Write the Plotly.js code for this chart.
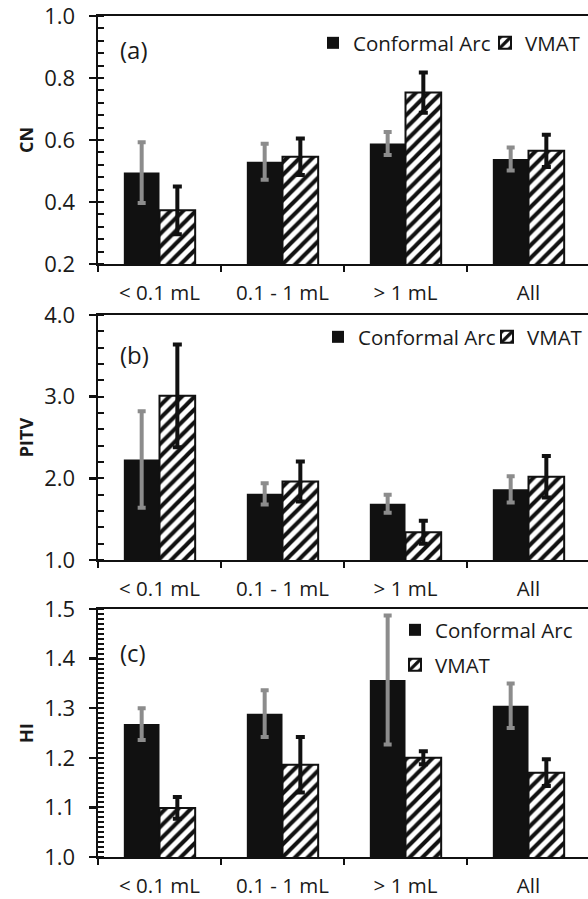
<!DOCTYPE html>
<html>
<head>
<meta charset="utf-8">
<script src="https://cdn.plot.ly/plotly-3.0.1.min.js"></script>
<style>
html,body{margin:0;padding:0;overflow:hidden;background:#fff;}
#chart{width:600px;height:899px;}
</style>
</head>
<body>
<div id="chart"></div>
<script>
// ---- data ----
const categories = ["< 0.1 mL", "0.1 - 1 mL", "> 1 mL", "All"];
const seriesNames = ["Conformal Arc", "VMAT"];

const cnConformal = [0.495, 0.530, 0.589, 0.539];
const cnConformalErr = [0.098, 0.058, 0.037, 0.037];
const cnVmat = [0.373, 0.546, 0.753, 0.565];
const cnVmatErr = [0.077, 0.059, 0.065, 0.052];

const pitvConformal = [2.23, 1.81, 1.69, 1.865];
const pitvConformalErr = [0.59, 0.13, 0.11, 0.16];
const pitvVmat = [3.01, 1.96, 1.34, 2.02];
const pitvVmatErr = [0.63, 0.245, 0.14, 0.255];

const hiConformal = [1.268, 1.289, 1.357, 1.305];
const hiConformalErr = [0.032, 0.047, 0.13, 0.045];
const hiVmat = [1.099, 1.186, 1.200, 1.170];
const hiVmatErr = [0.022, 0.056, 0.013, 0.027];

const cnTicks = [0.2, 0.4, 0.6, 0.8, 1.0];
const pitvTicks = [1.0, 2.0, 3.0, 4.0];
const hiTicks = [1.0, 1.1, 1.2, 1.3, 1.4, 1.5];

const panelLabels = ["(a)", "(b)", "(c)"];
const yTitles = ["CN", "PITV", "HI"];

// ---- styling ----
const FONT = "Open Sans, Arial, sans-serif";
const TXT = "#1a1a1a";
const BLACK = "#111";

function confTrace(y, err, xa, ya, leg) {
  return {
    type: "bar", x: categories, y: y, name: seriesNames[0],
    xaxis: xa, yaxis: ya, legend: leg,
    marker: {color: BLACK, line: {width: 0}},
    error_y: {type: "data", array: err, visible: true, color: "#8c8c8c", thickness: 4, width: 4}
  };
}
function vmatTrace(y, err, xa, ya, leg) {
  return {
    type: "bar", x: categories, y: y, name: seriesNames[1],
    xaxis: xa, yaxis: ya, legend: leg,
    marker: {color: "#fff", line: {color: BLACK, width: 2},
      pattern: {shape: "/", fgcolor: BLACK, bgcolor: "#fff", size: 9, solidity: 0.45}},
    error_y: {type: "data", array: err, visible: true, color: BLACK, thickness: 4, width: 4.5}
  };
}

const data = [
  confTrace(cnConformal, cnConformalErr, "x", "y", "legend"),
  vmatTrace(cnVmat, cnVmatErr, "x", "y", "legend2"),
  confTrace(pitvConformal, pitvConformalErr, "x2", "y2", "legend3"),
  vmatTrace(pitvVmat, pitvVmatErr, "x2", "y2", "legend4"),
  confTrace(hiConformal, hiConformalErr, "x3", "y3", "legend5"),
  vmatTrace(hiVmat, hiVmatErr, "x3", "y3", "legend6")
];

const H = 899;
function fy(px) { return 1 - px / H; }

function xAxis(anchor) {
  return {
    anchor: anchor, domain: [0, 1], type: "category",
    showline: true, linecolor: BLACK, linewidth: 2, mirror: true,
    ticks: "outside", tickson: "boundaries", ticklen: 6, tickwidth: 2, tickcolor: BLACK,
    tickfont: {family: FONT, size: 20.5, color: TXT},
    ticklabelstandoff: 9, ticklabeloverflow: "allow",
    showgrid: false, zeroline: false, fixedrange: true
  };
}
function yAxis(anchor, domain, range, vals, minorStep, title) {
  return {
    anchor: anchor, domain: domain, range: range,
    tickmode: "array", tickvals: vals, ticktext: vals.map(v => v.toFixed(1)),
    showline: true, linecolor: BLACK, linewidth: 2.5,
    ticks: "outside", ticklen: 7, tickwidth: 2.5, tickcolor: BLACK,
    minor: {ticks: "inside", dtick: minorStep, tick0: range[0], ticklen: 6, tickwidth: 2, tickcolor: BLACK, showgrid: false},
    tickfont: {family: FONT, size: 22, color: TXT},
    ticklabelstandoff: 9, ticklabeloverflow: "allow",
    showgrid: false, zeroline: false, fixedrange: true,
    title: {text: title, font: {family: FONT, size: 18, color: TXT, weight: "bold"}, standoff: 6}
  };
}

function legendAt(xpx, ypx) {
  return {
    x: (xpx - 98) / 492, y: fy(ypx), xanchor: "left", yanchor: "middle",
    orientation: "v", bgcolor: "rgba(0,0,0,0)", borderwidth: 0,
    font: {family: FONT, size: 20.5, color: TXT}, itemclick: false, itemdoubleclick: false
  };
}

function panelLabel(text, xa, ya, yfrac) {
  return {
    text: text, xref: xa + " domain", yref: ya + " domain",
    x: 0.04, y: yfrac, xanchor: "left", yanchor: "middle", showarrow: false,
    font: {family: FONT, size: 24, color: TXT}
  };
}

const layout = {
  width: 600, height: H,
  margin: {l: 98, r: 10, t: 0, b: 0},
  paper_bgcolor: "#fff", plot_bgcolor: "#fff",
  barmode: "group", bargap: 0.42, bargroupgap: 0,
  showlegend: true,
  xaxis: xAxis("y"),
  xaxis2: xAxis("y2"),
  xaxis3: xAxis("y3"),
  yaxis: yAxis("x", [fy(264), fy(16)], [0.2, 1.0], cnTicks, 0.04, yTitles[0]),
  yaxis2: yAxis("x2", [fy(560), fy(315)], [1.0, 4.0], pitvTicks, 0.2, yTitles[1]),
  yaxis3: yAxis("x3", [fy(857), fy(609)], [1.0, 1.5], hiTicks, 0.01, yTitles[2]),
  legend: legendAt(313, 43),
  legend2: legendAt(485, 43),
  legend3: legendAt(318, 337),
  legend4: legendAt(487, 337),
  legend5: legendAt(395, 630),
  legend6: legendAt(395, 665),
  annotations: [
    panelLabel(panelLabels[0], "x", "y", 0.863),
    panelLabel(panelLabels[1], "x2", "y2", 0.837),
    panelLabel(panelLabels[2], "x3", "y3", 0.823)
  ]
};

Plotly.newPlot("chart", data, layout, {displayModeBar: false, staticPlot: true});
</script>
</body>
</html>
